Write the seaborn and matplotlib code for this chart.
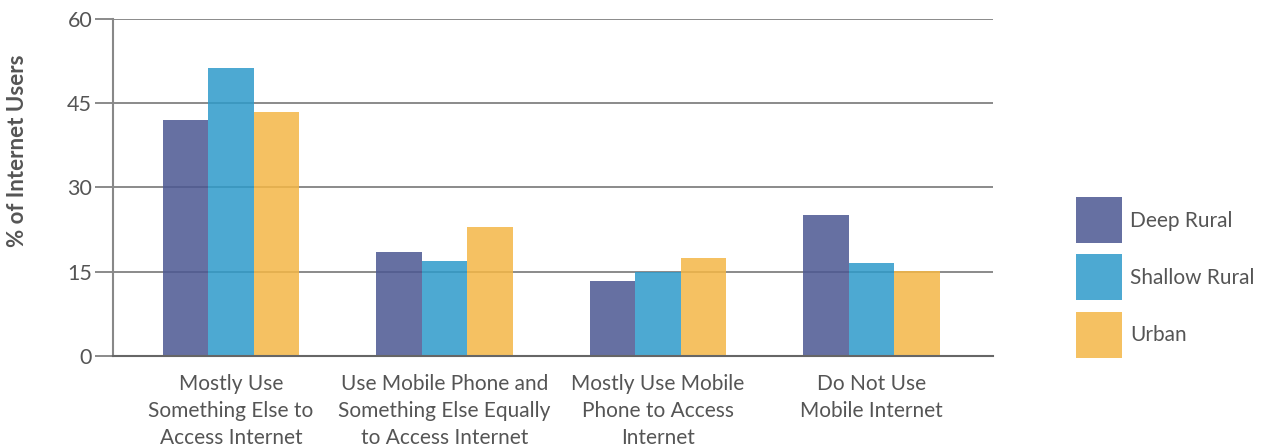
import numpy as np
import pandas as pd
import seaborn as sns
import matplotlib.pyplot as plt

# values
categories = [
    "Mostly Use\nSomething Else to\nAccess Internet",
    "Use Mobile Phone and\nSomething Else Equally\nto Access Internet",
    "Mostly Use Mobile\nPhone to Access\nInternet",
    "Do Not Use\nMobile Internet",
]
deep_rural = [42.0, 18.5, 13.4, 25.1]
shallow_rural = [51.3, 16.9, 15.0, 16.6]
urban = [43.4, 23.0, 17.4, 15.1]
groups = ["Deep Rural", "Shallow Rural", "Urban"]
yticks = [0, 15, 30, 45, 60]

df = pd.DataFrame({
    "category": categories * 3,
    "group": [g for g in groups for _ in categories],
    "value": deep_rural + shallow_rural + urban,
})

sns.set_theme(style="white")
plt.rcParams["font.family"] = ["Lato", "DejaVu Sans"]
text_col = "#555555"

fig = plt.figure(figsize=(12.65, 4.47), dpi=100)
ax = fig.add_axes([0.0893, 0.2036, 0.6957, 0.7539])

palette = ["#4B5792", "#2E9ACA", "#F4B746"]
sns.barplot(data=df, x="category", y="value", hue="group", palette=palette,
            width=0.64, gap=0, alpha=0.85, saturation=1, ax=ax,
            edgecolor="none", linewidth=0)

ax.set_ylim(0, 60)
ax.set_yticks(yticks)
ax.set_xlim(-0.553, 3.57)
ax.yaxis.grid(True, color="#777777", linewidth=1.2)
ax.set_axisbelow(True)

for s in ["top", "right"]:
    ax.spines[s].set_visible(False)
ax.spines["left"].set_color("#888888")
ax.spines["left"].set_linewidth(1.5)
ax.spines["bottom"].set_color("#666666")
ax.spines["bottom"].set_linewidth(1.5)

ax.tick_params(axis="y", which="both", left=True, length=13, width=1.2,
               color="#777777", labelsize=15.5, labelcolor=text_col, pad=2)
ax.tick_params(axis="x", bottom=False, labelsize=15, labelcolor=text_col, pad=7)
for lbl in ax.get_xticklabels():
    lbl.set_linespacing(1.45)

ax.set_xlabel("")
ax.set_ylabel("% of Internet Users", fontsize=16, fontweight="bold",
              color=text_col)
ax.yaxis.set_label_coords(-0.097, 0.61)

handles, labels = ax.get_legend_handles_labels()
ax.legend(handles, labels, loc="center left", bbox_to_anchor=(1.085, 0.233),
          frameon=False, fontsize=15, labelcolor=text_col,
          handlelength=2.2, handleheight=3.02, labelspacing=0.53,
          handletextpad=0.4, borderaxespad=0)

fig.savefig("out.png", dpi=100)
